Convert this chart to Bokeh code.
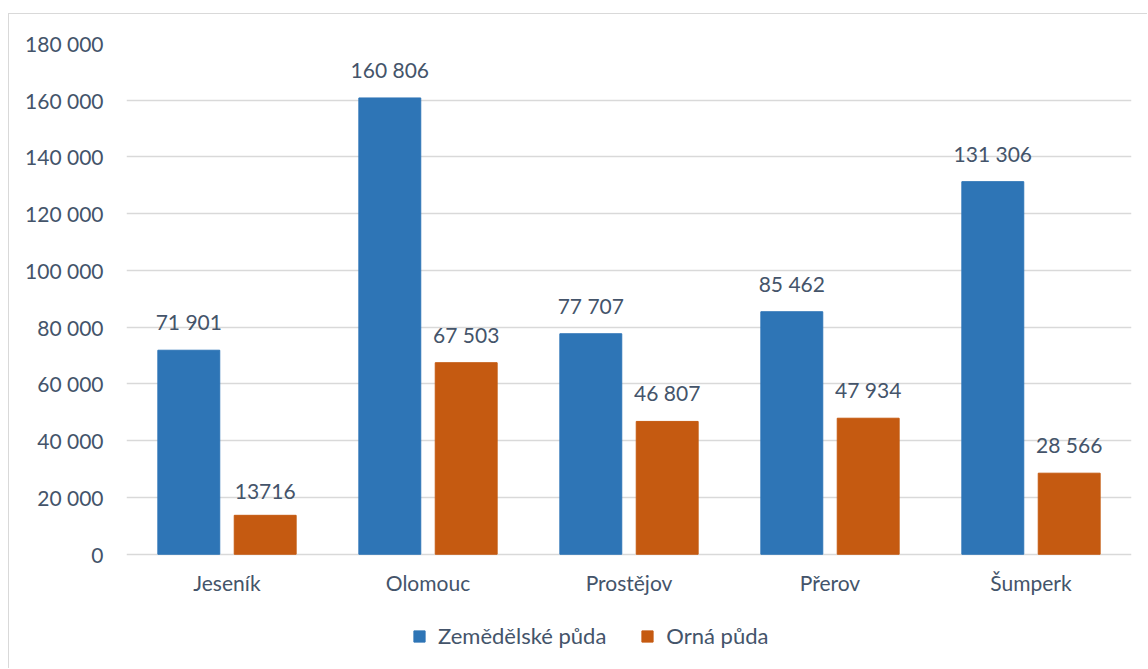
from bokeh.plotting import figure
from bokeh.models import ColumnDataSource, FixedTicker, Legend, LegendItem, Range1d, FactorRange
from bokeh.transform import dodge
from bokeh.embed import file_html
from bokeh.resources import INLINE

districts = ["Jeseník", "Olomouc", "Prostějov", "Přerov", "Šumperk"]
zemedelska = [71901, 160806, 77707, 85462, 131306]
orna = [13716, 67503, 46807, 47934, 28566]
zemedelska_labels = ["71 901", "160 806", "77 707", "85 462", "131 306"]
orna_labels = ["13716", "67 503", "46 807", "47 934", "28 566"]
series_names = ["Zemědělské půda", "Orná půda"]
y_ticks = [0, 20000, 40000, 60000, 80000, 100000, 120000, 140000, 160000, 180000]

BLUE = "#2E75B6"
ORANGE = "#C55A11"
TXT = "#44546A"
GRID = "#D9D9D9"
FONT = "Lato"

src = ColumnDataSource(dict(d=districts, z=zemedelska, o=orna, zl=zemedelska_labels, ol=orna_labels,
                            base=[0] * len(districts)))

# frame extends below zero to host category labels and legend
p = figure(x_range=FactorRange(*districts, range_padding=0), y_range=Range1d(-37800, 180000),
           width=1139, height=655, output_backend="svg", toolbar_location=None,
           min_border_left=117, min_border_right=17, min_border_top=29, min_border_bottom=8)
p.styles = {"margin-top": "13px", "margin-left": "8px",
            "border-top": "1px solid #D9D9D9", "border-left": "1px solid #D9D9D9"}
p.outline_line_color = None
p.background_fill_color = "white"

rz = p.vbar(x=dodge("d", -0.19, range=p.x_range), top="z", width=0.308, source=src, color=BLUE)
ro = p.vbar(x=dodge("d", 0.19, range=p.x_range), top="o", width=0.308, source=src, color=ORANGE)

for off, col, lab in [(-0.19, "z", "zl"), (0.19, "o", "ol")]:
    p.text(x=dodge("d", off, range=p.x_range), y=col, text=lab, source=src,
           text_align="center", text_baseline="bottom", y_offset=-16,
           text_font_size="21px", text_color=TXT, text_font={"value": FONT})

# category labels
p.text(x="d", y="base", text="d", source=src, text_align="center", text_baseline="top",
       y_offset=16, text_font_size="21px", text_color=TXT, text_font={"value": FONT})

p.yaxis.ticker = FixedTicker(ticks=y_ticks)
p.yaxis.major_label_overrides = {t: f"{t:,}".replace(",", " ") for t in y_ticks}
p.yaxis.axis_line_color = None
p.yaxis.major_tick_line_color = None
p.yaxis.minor_tick_line_color = None
p.yaxis.major_label_standoff = 17
p.yaxis.major_label_text_font_size = "21px"
p.yaxis.major_label_text_color = TXT
p.yaxis.major_label_text_font = FONT

p.xaxis.visible = False
p.xgrid.grid_line_color = None
p.ygrid.grid_line_color = GRID
p.ygrid.grid_line_width = 1.5

legend = Legend(items=[LegendItem(label=series_names[0], renderers=[rz]),
                       LegendItem(label=series_names[1], renderers=[ro])],
                orientation="horizontal", location=(286, 12),
                glyph_width=14, glyph_height=14, label_standoff=12, spacing=34,
                padding=0, margin=0, border_line_color=None, background_fill_alpha=0,
                label_text_font_size="22px", label_text_color=TXT, label_text_font=FONT)
p.add_layout(legend, "center")

open("out.html", "w").write(file_html(p, INLINE))
